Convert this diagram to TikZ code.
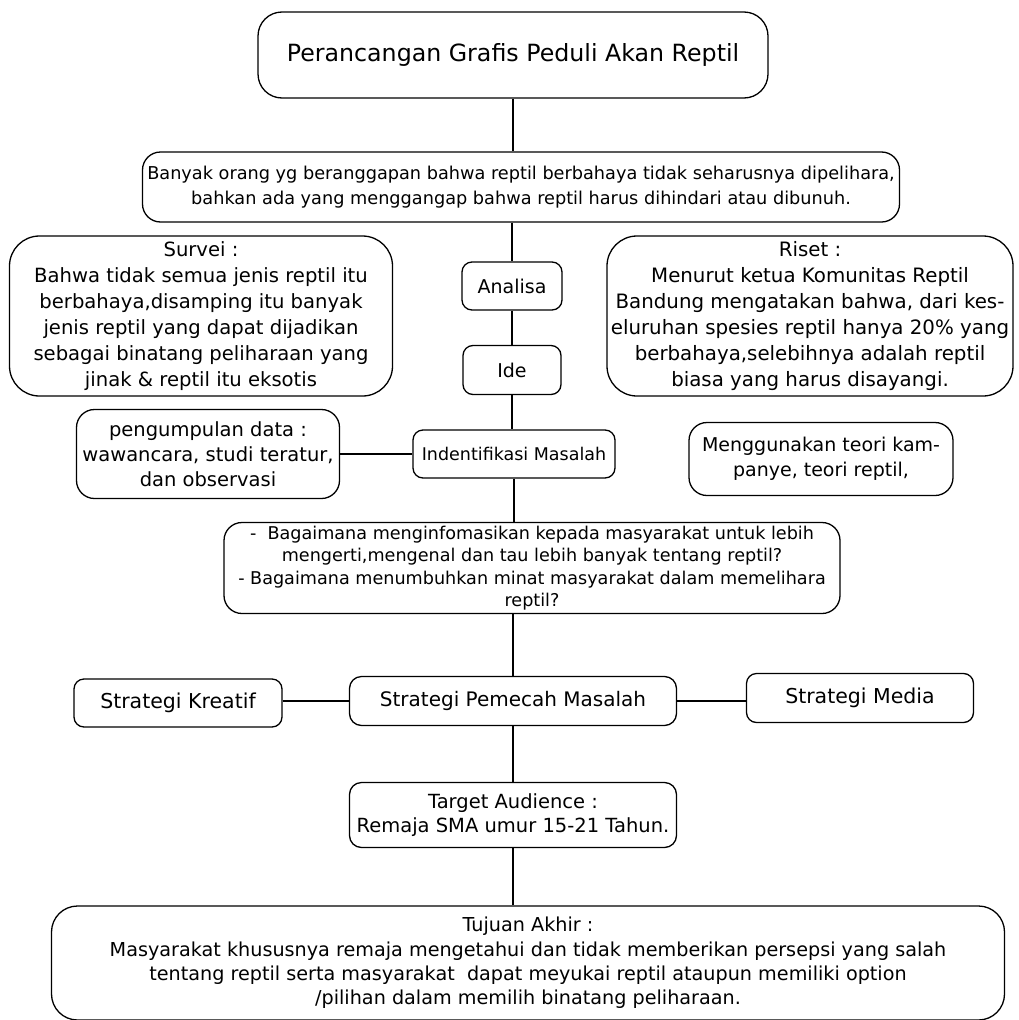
\documentclass[tikz,border=0pt]{standalone}
\usepackage{fontspec}
\setmainfont{DejaVu Sans}
\usetikzlibrary{positioning}

\tikzset{
  kotak/.style = {draw, rounded corners=18pt, line width=1.3pt, align=center, inner sep=2pt},
  kecil/.style = {draw, rounded corners=10pt, line width=1.3pt, align=center, inner sep=2pt},
  garis/.style = {line width=1.2pt},
  tebal/.style = {line width=2.2pt}
}

\newcommand{\fs}[2]{\fontsize{#1}{#2}\selectfont}

\begin{document}
\begin{tikzpicture}[x=1pt, y=-1pt]

        % Batas gambar
        \useasboundingbox (0,0) rectangle (1019,1020);

        % Alur utama
        \node[kotak, rounded corners=24pt, minimum width=510, minimum height=86, font=\fs{23.7}{28}] (judul) at (513,55) {Perancangan Grafis Peduli Akan Reptil};
        \node[kotak, minimum width=757, minimum height=70, font=\fs{17.7}{25}] (latar) at (521,187) {Banyak orang yg beranggapan bahwa reptil berbahaya tidak seharusnya dipelihara,\\ bahkan ada yang menggangap bahwa reptil harus dihindari atau dibunuh.};
        \node[kecil, minimum width=100, minimum height=48, font=\fs{19}{22}] (analisa) at (512,286) {Analisa};
        \node[kecil, minimum width=98, minimum height=49, font=\fs{19}{22}] (ide) at (512,370) {Ide};
        \node[kecil, minimum width=202, minimum height=48, font=\fs{17.5}{20}] (identifikasi) at (514,454) {Indentifikasi Masalah};
        \node[kotak, minimum width=616, minimum height=91, font=\fs{17.6}{22.5}] (rumusan) at (532,568) {-~~Bagaimana menginfomasikan kepada masyarakat untuk lebih\\ mengerti,mengenal dan tau lebih banyak tentang reptil?\\ - Bagaimana menumbuhkan minat masyarakat dalam memelihara\\ reptil?};
        \node[kecil, rounded corners=12pt, minimum width=327, minimum height=49, font=\fs{20}{24}] (pemecah) at (513,701) {Strategi Pemecah Masalah};
        \node[kecil, rounded corners=12pt, minimum width=327, minimum height=65, font=\fs{19.5}{24}] (target) at (513,815) {Target Audience :\\ Remaja SMA umur 15-21 Tahun.};
        \node[kotak, rounded corners=26pt, minimum width=953, minimum height=114, font=\fs{19.2}{24.3}] (tujuan) at (528,963) {Tujuan Akhir :\\ Masyarakat khususnya remaja mengetahui dan tidak memberikan persepsi yang salah\\ tentang reptil serta masyarakat~ dapat meyukai reptil ataupun memiliki option\\ /pilihan dalam memilih binatang peliharaan.};

        % Kotak samping
        \node[kotak, rounded corners=30pt, minimum width=383, minimum height=160, font=\fs{19.6}{26}] (survei) at (201,316) {Survei :\\ Bahwa tidak semua jenis reptil itu\\ berbahaya,disamping itu banyak\\ jenis reptil yang dapat dijadikan\\ sebagai binatang peliharaan yang\\ jinak \& reptil itu eksotis};
        \node[kotak, rounded corners=30pt, minimum width=406, minimum height=160, font=\fs{19.8}{26}] (riset) at (810,316) {Riset :\\ Menurut ketua Komunitas Reptil\\ Bandung mengatakan bahwa, dari kes-\\ eluruhan spesies reptil hanya 20\% yang\\ berbahaya,selebihnya adalah reptil\\ biasa yang harus disayangi.};
        \node[kotak, minimum width=263, minimum height=89, font=\fs{19.5}{25}] (data) at (208,454) {pengumpulan data :\\ wawancara, studi teratur,\\ dan observasi};
        \node[kotak, minimum width=264, minimum height=73, font=\fs{19}{25}] (teori) at (821,459) {Menggunakan teori kam-\\ panye, teori reptil,};
        \node[kecil, minimum width=208, minimum height=48, font=\fs{20.5}{24}] (kreatif) at (178,703) {Strategi Kreatif};
        \node[kecil, minimum width=227, minimum height=49, font=\fs{20.5}{24}] (media) at (860,698) {Strategi Media};

        % Garis penghubung
        \draw[garis] (judul) -- (judul |- latar.north);
        \draw[garis] (analisa |- latar.south) -- (analisa);
        \draw[garis] (analisa) -- (ide);
        \draw[garis] (ide) -- (ide |- identifikasi.north);
        \draw[garis] (identifikasi) -- (rumusan.north -| identifikasi);
        \draw[garis] (rumusan.south -| pemecah) -- (pemecah);
        \draw[garis] (pemecah) -- (target);
        \draw[garis] (target) -- (tujuan.north -| target);
        \draw[garis] (data) -- (identifikasi);
        \draw[tebal] (kreatif.east |- pemecah) -- (pemecah);
        \draw[tebal] (pemecah.east) -- (media.west |- pemecah.east);
    \end{tikzpicture}
\end{document}
